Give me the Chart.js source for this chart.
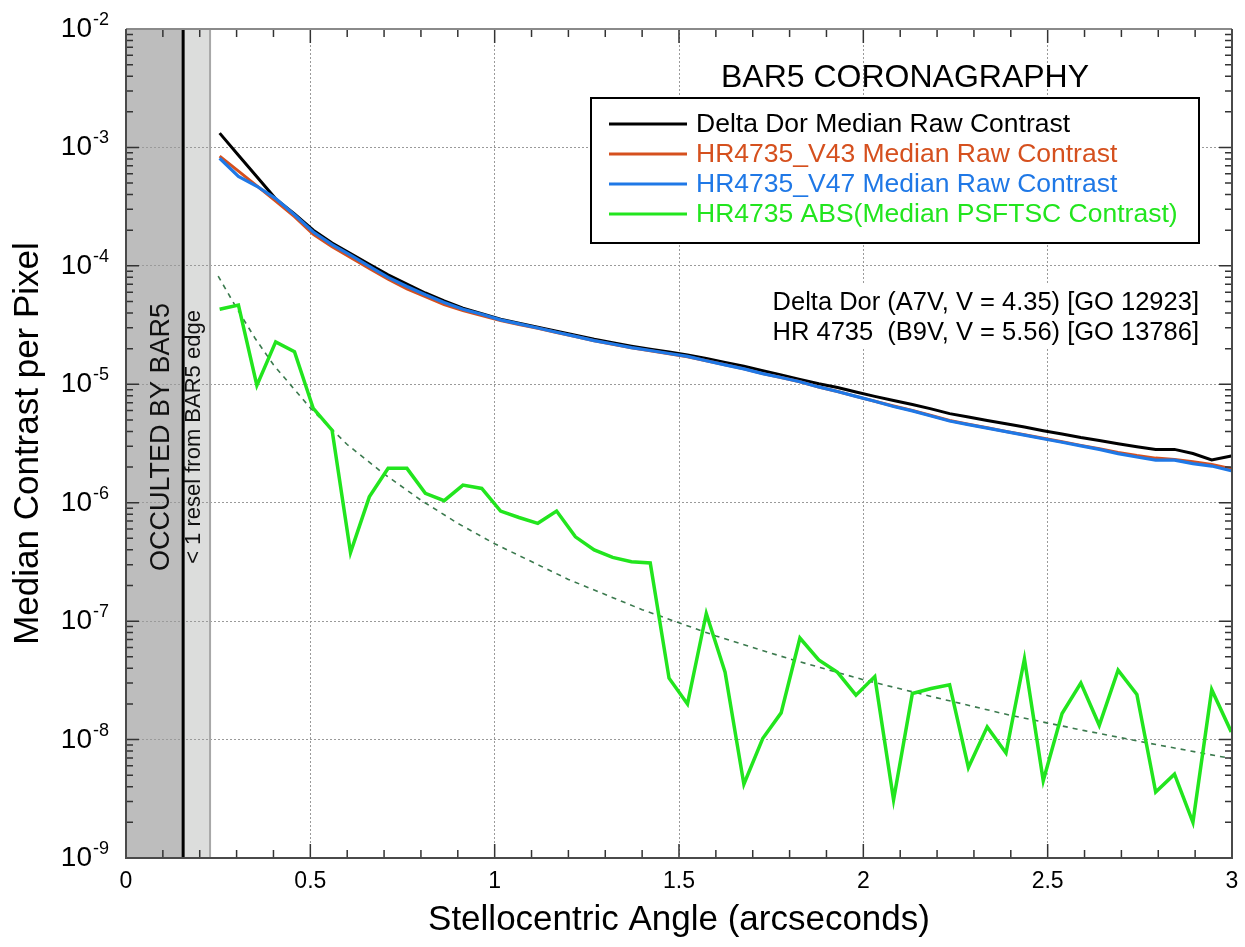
<!DOCTYPE html>
<html>
<head>
<meta charset="utf-8">
<script src="https://cdn.jsdelivr.net/npm/chart.js@4.4.1/dist/chart.umd.min.js"></script>
<style>
  body { margin: 0; background: #fff; }
  canvas { display: block; }
</style>
</head>
<body>
<canvas id="myChart" width="1245" height="947"></canvas>
<script>
const FONT = '"Liberation Sans", Arial, Helvetica, sans-serif';

// stellocentric angle of each sample (arcsec)
const angles = [0.254, 0.305, 0.355, 0.406, 0.457, 0.508, 0.559, 0.609, 0.660, 0.711,
  0.762, 0.812, 0.863, 0.914, 0.965, 1.016, 1.066, 1.117, 1.168, 1.219,
  1.270, 1.320, 1.371, 1.422, 1.473, 1.523, 1.574, 1.625, 1.676, 1.727,
  1.777, 1.828, 1.879, 1.930, 1.980, 2.031, 2.082, 2.133, 2.184, 2.234,
  2.285, 2.336, 2.387, 2.437, 2.488, 2.539, 2.590, 2.640, 2.691, 2.742,
  2.793, 2.844, 2.894, 2.945, 2.998];

const deltaDor = [1.32e-3, 8.6e-4, 5.65e-4, 3.68e-4, 2.75e-4, 2.0e-4, 1.56e-4, 1.27e-4, 1.03e-4, 8.4e-5,
  7.0e-5, 5.9e-5, 5.05e-5, 4.4e-5, 3.95e-5, 3.55e-5, 3.28e-5, 3.03e-5, 2.8e-5, 2.6e-5,
  2.4e-5, 2.24e-5, 2.1e-5, 1.98e-5, 1.87e-5, 1.77e-5, 1.65e-5, 1.53e-5, 1.42e-5, 1.3e-5,
  1.2e-5, 1.1e-5, 1.01e-5, 9.4e-6, 8.6e-6, 7.9e-6, 7.3e-6, 6.75e-6, 6.2e-6, 5.65e-6,
  5.3e-6, 4.95e-6, 4.65e-6, 4.35e-6, 4.05e-6, 3.8e-6, 3.55e-6, 3.35e-6, 3.15e-6, 2.97e-6,
  2.82e-6, 2.82e-6, 2.6e-6, 2.3e-6, 2.48e-6];

const hrV43 = [8.45e-4, 6.3e-4, 4.73e-4, 3.53e-4, 2.6e-4, 1.85e-4, 1.45e-4, 1.18e-4, 9.5e-5, 7.7e-5,
  6.4e-5, 5.5e-5, 4.7e-5, 4.2e-5, 3.8e-5, 3.45e-5, 3.2e-5, 2.97e-5, 2.74e-5, 2.53e-5,
  2.33e-5, 2.18e-5, 2.03e-5, 1.92e-5, 1.81e-5, 1.71e-5, 1.58e-5, 1.46e-5, 1.35e-5, 1.23e-5,
  1.14e-5, 1.05e-5, 9.5e-6, 8.7e-6, 7.9e-6, 7.2e-6, 6.55e-6, 6.0e-6, 5.45e-6, 4.95e-6,
  4.6e-6, 4.3e-6, 4.0e-6, 3.75e-6, 3.5e-6, 3.27e-6, 3.05e-6, 2.86e-6, 2.66e-6, 2.5e-6,
  2.38e-6, 2.32e-6, 2.22e-6, 2.1e-6, 1.94e-6];

const hrV47 = [8.1e-4, 5.7e-4, 4.7e-4, 3.7e-4, 2.7e-4, 1.93e-4, 1.51e-4, 1.23e-4, 9.9e-5, 8.0e-5,
  6.7e-5, 5.7e-5, 4.9e-5, 4.3e-5, 3.9e-5, 3.5e-5, 3.24e-5, 2.99e-5, 2.75e-5, 2.54e-5,
  2.34e-5, 2.19e-5, 2.04e-5, 1.93e-5, 1.82e-5, 1.72e-5, 1.58e-5, 1.46e-5, 1.35e-5, 1.23e-5,
  1.14e-5, 1.05e-5, 9.5e-6, 8.7e-6, 7.9e-6, 7.2e-6, 6.5e-6, 5.96e-6, 5.4e-6, 4.9e-6,
  4.57e-6, 4.27e-6, 3.98e-6, 3.72e-6, 3.47e-6, 3.24e-6, 3.02e-6, 2.82e-6, 2.6e-6, 2.43e-6,
  2.29e-6, 2.29e-6, 2.14e-6, 2.04e-6, 1.86e-6];

const hrAbs = [4.3e-5, 4.67e-5, 9.8e-6, 2.28e-5, 1.88e-5, 6.25e-6, 4.1e-6, 3.8e-7, 1.12e-6, 1.95e-6,
  1.95e-6, 1.2e-6, 1.04e-6, 1.41e-6, 1.32e-6, 8.5e-7, 7.5e-7, 6.7e-7, 8.5e-7, 5.15e-7,
  4.0e-7, 3.45e-7, 3.17e-7, 3.1e-7, 3.3e-8, 2.0e-8, 1.16e-7, 3.7e-8, 4.2e-9, 1.02e-8,
  1.68e-8, 7.2e-8, 4.7e-8, 3.7e-8, 2.37e-8, 3.4e-8, 3.1e-9, 2.45e-8, 2.7e-8, 2.9e-8,
  5.8e-9, 1.28e-8, 7.7e-9, 4.8e-8, 4.5e-9, 1.66e-8, 3.0e-8, 1.32e-8, 3.86e-8, 2.4e-8,
  3.6e-9, 5.1e-9, 2.0e-9, 2.64e-8, 1.16e-8];

// dashed trend curve
const fitAngles = [0.25, 0.3, 0.35, 0.4, 0.5, 0.6, 0.7, 0.8, 0.9, 1.0,
  1.2, 1.4, 1.6, 1.8, 2.0, 2.2, 2.4, 2.6, 2.8, 3.0];
const fitValues = [8.2e-5, 4.4e-5, 2.45e-5, 1.46e-5, 6.3e-6, 3.1e-6, 1.75e-6, 1.05e-6, 6.7e-7, 4.5e-7,
  2.25e-7, 1.25e-7, 7.5e-8, 4.8e-8, 3.2e-8, 2.25e-8, 1.6e-8, 1.19e-8, 9.0e-9, 6.9e-9];

const occultEdge = 0.155;  // BAR5 occulted zone
const reselEdge = 0.228;   // < 1 resel zone

const seriesLabels = ['Delta Dor Median Raw Contrast', 'HR4735_V43 Median Raw Contrast',
  'HR4735_V47 Median Raw Contrast', 'HR4735 ABS(Median PSFTSC Contrast)'];
const seriesColors = ['#000000', '#D5501E', '#1F78E6', '#22E51E'];
const chartTitle = 'BAR5 CORONAGRAPHY';
const notes = ['Delta Dor (A7V, V = 4.35) [GO 12923]', 'HR 4735  (B9V, V = 5.56) [GO 13786]'];
const decades = [-2, -3, -4, -5, -6, -7, -8, -9];

const pts = (xs, ys) => xs.map((x, i) => ({x: x, y: ys[i]}));
const isDecade = v => { const l = Math.log10(v); return Math.abs(l - Math.round(l)) < 1e-6; };

const decorations = {
  id: 'decorations',
  beforeDraw(chart) {
    const {ctx, chartArea: a, scales: {x}} = chart;
    const p0 = x.getPixelForValue(0), p1 = x.getPixelForValue(occultEdge), p2 = x.getPixelForValue(reselEdge);
    ctx.save();
    ctx.fillStyle = '#bdbdbd';
    ctx.fillRect(p0, a.top, p1 - p0, a.bottom - a.top);
    ctx.fillStyle = '#dcdddc';
    ctx.fillRect(p1, a.top, p2 - p1, a.bottom - a.top);
    ctx.restore();
  },
  beforeDatasetsDraw(chart) {
    const {ctx, chartArea: a, scales: {x}} = chart;
    const p1 = x.getPixelForValue(occultEdge), p2 = x.getPixelForValue(reselEdge);
    ctx.save();
    ctx.strokeStyle = '#a8a8a8'; ctx.lineWidth = 2;
    ctx.beginPath(); ctx.moveTo(p2, a.top); ctx.lineTo(p2, a.bottom); ctx.stroke();
    ctx.strokeStyle = '#000'; ctx.lineWidth = 3;
    ctx.beginPath(); ctx.moveTo(p1, a.top); ctx.lineTo(p1, a.bottom); ctx.stroke();
    const cy = 437;
    ctx.fillStyle = '#111';
    ctx.textAlign = 'center'; ctx.textBaseline = 'alphabetic';
    ctx.save();
    ctx.translate(169, cy); ctx.rotate(-Math.PI / 2);
    ctx.font = '27px ' + FONT;
    ctx.fillText('OCCULTED BY BAR5', 0, 0);
    ctx.restore();
    ctx.save();
    ctx.translate(200, cy); ctx.rotate(-Math.PI / 2);
    ctx.font = '22px ' + FONT;
    ctx.fillText('< 1 resel from BAR5 edge', 0, 0);
    ctx.restore();
    ctx.restore();
  },
  afterDatasetsDraw(chart) {
    const {ctx, chartArea: a, scales: {x, y}} = chart;
    ctx.save();
    ctx.strokeStyle = '#333'; ctx.lineWidth = 1.5;
    ctx.beginPath();
    for (let i = 1; i < 30; i++) {
      const px = x.getPixelForValue(i / 10);
      const len = i % 5 === 0 ? 14 : 8;
      ctx.moveTo(px, a.bottom); ctx.lineTo(px, a.bottom - len);
      ctx.moveTo(px, a.top); ctx.lineTo(px, a.top + len);
    }
    for (let e = -9; e < -2; e++) {
      for (let m = 1; m <= 9; m++) {
        if (e === -9 && m === 1) continue;
        const py = y.getPixelForValue(m * Math.pow(10, e));
        const len = m === 1 ? 13 : 7;
        ctx.moveTo(a.left, py); ctx.lineTo(a.left + len, py);
        ctx.moveTo(a.right, py); ctx.lineTo(a.right - len, py);
      }
    }
    ctx.stroke();
    // frame
    ctx.strokeStyle = '#8a8a8a'; ctx.lineWidth = 2;
    ctx.beginPath(); ctx.moveTo(a.left, a.top); ctx.lineTo(a.right, a.top); ctx.stroke();
    ctx.strokeStyle = '#4a4a4a';
    ctx.beginPath();
    ctx.moveTo(a.left, a.top); ctx.lineTo(a.left, a.bottom); ctx.lineTo(a.right, a.bottom); ctx.lineTo(a.right, a.top);
    ctx.stroke();
    ctx.restore();
  },
  afterDraw(chart) {
    const {ctx, chartArea: a, scales: {y}} = chart;
    ctx.save();
    // y tick labels 10^n
    ctx.fillStyle = '#000';
    ctx.textBaseline = 'alphabetic';
    decades.forEach(e => {
      const py = y.getPixelForValue(Math.pow(10, e));
      ctx.font = '18px ' + FONT;
      const exp = '-' + Math.abs(e);
      const we = ctx.measureText(exp).width;
      ctx.textAlign = 'left';
      ctx.fillText(exp, 109 - we, py - 4);
      ctx.font = '28px ' + FONT;
      ctx.textAlign = 'right';
      ctx.fillText('10', 108 - we, py + 8);
    });
    // title
    ctx.font = '32px ' + FONT;
    ctx.textAlign = 'center';
    ctx.fillText(chartTitle, 905, 87);
    // legend
    const bx = 591, by = 98, bw = 608, bh = 145;
    ctx.fillStyle = '#fff';
    ctx.fillRect(bx, by, bw, bh);
    ctx.strokeStyle = '#000'; ctx.lineWidth = 2;
    ctx.strokeRect(bx, by, bw, bh);
    ctx.font = '26.5px ' + FONT;
    ctx.textAlign = 'left'; ctx.textBaseline = 'middle';
    seriesLabels.forEach((lab, i) => {
      const ry = 124 + i * 30;
      ctx.strokeStyle = seriesColors[i]; ctx.lineWidth = 3;
      ctx.beginPath(); ctx.moveTo(609, ry); ctx.lineTo(687, ry); ctx.stroke();
      ctx.fillStyle = seriesColors[i];
      ctx.fillText(lab, 696, ry + 1);
    });
    // star notes
    ctx.fillStyle = '#fff';
    ctx.fillRect(748, 284, 452, 64);
    ctx.fillStyle = '#000';
    ctx.font = '25.5px ' + FONT;
    ctx.textAlign = 'right'; ctx.textBaseline = 'alphabetic';
    ctx.fillText(notes[0], 1199, 310);
    ctx.fillText(notes[1], 1199, 340);
    ctx.restore();
  }
};

const ctx = document.getElementById('myChart');
const myChart = new Chart(ctx, {
  type: 'scatter',
  data: {
    datasets: [
      {label: seriesLabels[0], data: pts(angles, deltaDor), borderColor: seriesColors[0], borderWidth: 3, order: 3},
      {label: seriesLabels[1], data: pts(angles, hrV43), borderColor: seriesColors[1], borderWidth: 3, order: 2},
      {label: seriesLabels[2], data: pts(angles, hrV47), borderColor: seriesColors[2], borderWidth: 3.2, order: 1},
      {label: seriesLabels[3], data: pts(angles, hrAbs), borderColor: seriesColors[3], borderWidth: 3.5, order: 4},
      {label: 'fit', data: pts(fitAngles, fitValues), borderColor: '#3b7a4e', borderWidth: 1.6, borderDash: [5, 5], order: 5}
    ].map(d => Object.assign(d, {showLine: true, pointRadius: 0, tension: 0, fill: false}))
  },
  options: {
    responsive: false,
    animation: false,
    events: [],
    layout: {padding: {top: 29, right: 13, left: 0, bottom: 0}},
    plugins: {legend: {display: false}, tooltip: {enabled: false}},
    scales: {
      x: {
        type: 'linear', min: 0, max: 3,
        afterFit: s => { s.height = 89; s.paddingRight = 0; s.paddingLeft = 0; },
        ticks: {stepSize: 0.5, color: '#000', font: {size: 23, family: FONT}, padding: 10, maxRotation: 0,
          callback: v => String(Number(v))},
        grid: {color: c => (c.tick && c.tick.value > 0 && c.tick.value < 3) ? '#9a9a9a' : 'rgba(0,0,0,0)', lineWidth: 1, drawTicks: false},
        border: {display: false, dash: [2, 2]},
        title: {display: true, text: 'Stellocentric Angle (arcseconds)', color: '#000', font: {size: 35, family: FONT}, padding: {top: 0, bottom: 6}}
      },
      y: {
        type: 'logarithmic', min: 1e-9, max: 1e-2,
        afterFit: s => { s.width = 126; },
        ticks: {display: false},
        grid: {color: c => (c.tick && isDecade(c.tick.value) && c.tick.value > 1.5e-9 && c.tick.value < 0.9e-2) ? '#9a9a9a' : 'rgba(0,0,0,0)', lineWidth: 1, drawTicks: false},
        border: {display: false, dash: [2, 2]},
        title: {display: true, text: 'Median Contrast per Pixel', color: '#000', font: {size: 35, family: FONT}, padding: {top: 7, bottom: 0}}
      }
    }
  },
  plugins: [decorations]
});
</script>
</body>
</html>
